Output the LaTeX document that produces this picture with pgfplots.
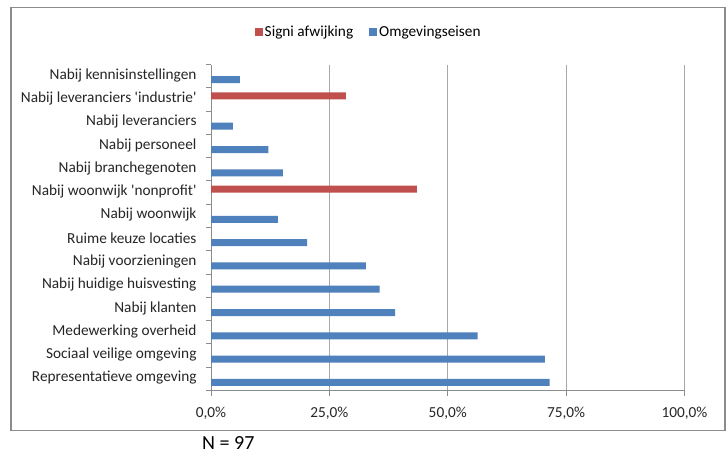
\documentclass[border=0pt]{standalone}
\usepackage{pgfplots}
\pgfplotsset{compat=1.18}
\usepackage{fontspec}
\setmainfont{Carlito}[Ligatures=TeXOff]
\definecolor{xlblue}{HTML}{4F81BD}
\definecolor{xlred}{HTML}{C0504D}
\definecolor{axgray}{HTML}{8C8C8C}
\definecolor{grdgray}{HTML}{A8A8A8}
\begin{document}
\begin{tikzpicture}
\useasboundingbox (0,0) rectangle (728bp,-455bp);
\fill[white] (0,0) rectangle (728bp,-455bp);
\draw[color=axgray, line width=1.3bp] (11bp,-7.5bp) rectangle (725bp,-430.5bp);
\begin{axis}[
  at={(211bp,-390.5bp)}, anchor=south west,
  scale only axis, width=473.5bp, height=326bp,
  xmin=0, xmax=100, ymin=-0.5, ymax=13.5,
  xtick={0,25,50,75,100},
  xticklabels={{0,0\%},{25,0\%},{50,0\%},{75,0\%},{100,0\%}},
  ytick={-0.5,0.5,...,13.5},
  y tick label as interval,
  yticklabels={Representatieve omgeving,Sociaal veilige omgeving,Medewerking overheid,Nabij klanten,Nabij huidige huisvesting,Nabij voorzieningen,Ruime keuze locaties,Nabij woonwijk,Nabij woonwijk 'nonprofit',Nabij branchegenoten,Nabij personeel,Nabij leveranciers,Nabij leveranciers 'industrie',Nabij kennisinstellingen},
  axis x line*=bottom, axis y line*=left,
  xmajorgrids, grid style={grdgray, line width=0.9bp},
  tick align=outside, major tick length=5bp,
  axis line style={axgray, line width=0.9bp},
  tick style={axgray, line width=0.9bp},
  ticklabel style={font=\fontsize{15.3bp}{18bp}\selectfont, text=black!85},
  yticklabel style={xshift=-6bp, yshift=1bp},
  xticklabel style={yshift=-8bp},
  xbar, bar width=7bp,
  legend style={at={(rel axis cs:0.333,1.0997)}, anchor=center, draw=none,
    legend columns=2, font=\fontsize{15.3bp}{18bp}\selectfont,
    /tikz/every even column/.append style={column sep=14bp}},
  legend image code/.code={\fill[#1] (0bp,-4bp) rectangle (8bp,4bp);},
]
\addplot[fill=xlred, draw=none, bar shift=3.5bp] coordinates {(43.5,8) (28.5,12)};
\addlegendentry{Signi afwijking}
\addplot[fill=xlblue, draw=none, bar shift=-3.5bp] coordinates {(71.5,0) (70.5,1) (56.3,2) (38.9,3) (35.6,4) (32.7,5) (20.3,6) (14.1,7) (15.2,9) (12.1,10) (4.6,11) (6.1,13)};
\addlegendentry{Omgevingseisen}
\end{axis}
\node[anchor=base west, font=\fontsize{20bp}{24bp}\selectfont, inner sep=0pt] at (202bp,-449.5bp) {N = 97};
\end{tikzpicture}
\end{document}
